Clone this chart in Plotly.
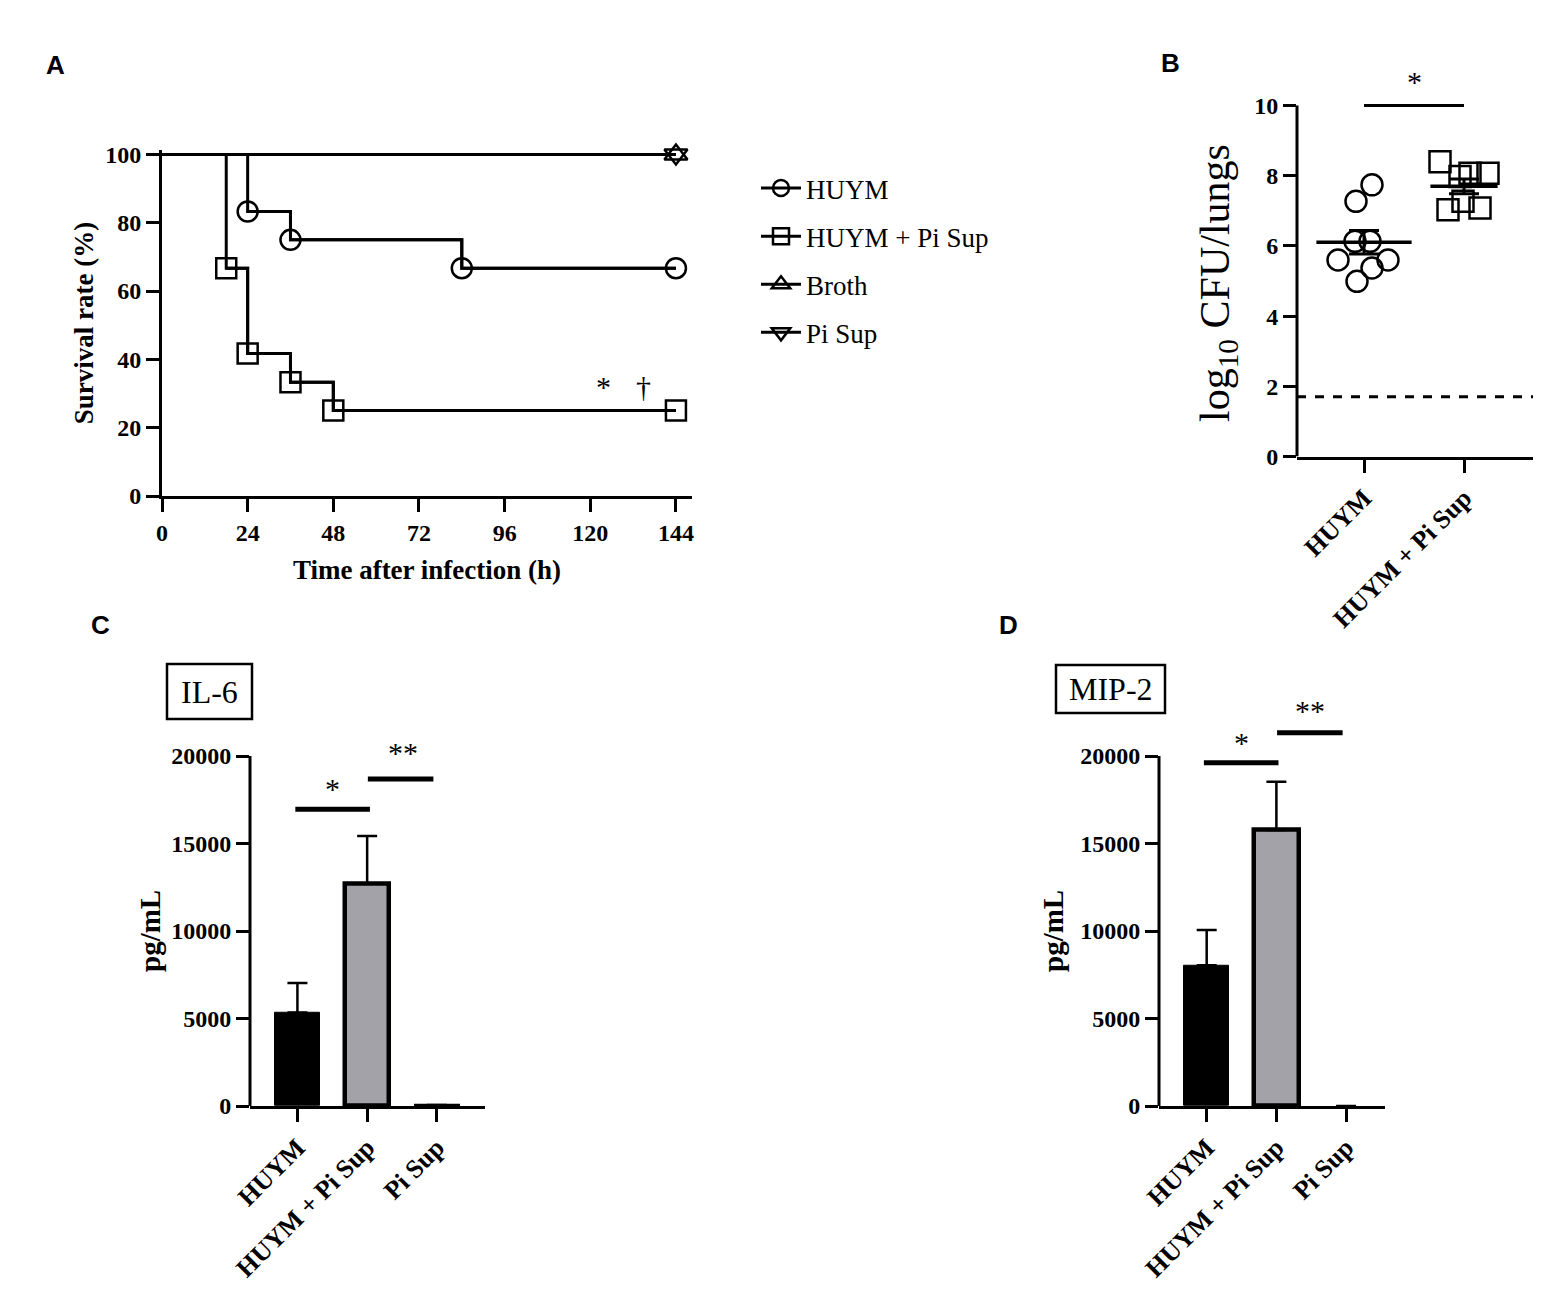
import numpy as np
import plotly.graph_objects as go

W, H = 1562, 1304
OFF = 8  # page offset of the plot inside the browser window
SERIF = "Liberation Serif"
SANS = "Liberation Sans"

# ---------------- Panel A: survival ----------------
time_huym = [0, 24, 36, 84, 144]
surv_huym = [100, 83.3, 75.0, 66.7, 66.7]
time_mix = [0, 18, 24, 36, 48, 144]
surv_mix = [100, 66.7, 41.7, 33.3, 25.0, 25.0]
time_broth = [0, 144]
surv_broth = [100, 100]
time_pisup = [0, 144]
surv_pisup = [100, 100]
survival_ticks = [0, 20, 40, 60, 80, 100]
time_ticks = [0, 24, 48, 72, 96, 120, 144]

# ---------------- Panel B: lung CFU ----------------
groups_b = ["HUYM", "HUYM + Pi Sup"]
cfu_huym = [7.74, 7.27, 6.13, 6.13, 5.60, 5.60, 5.37, 4.99]
jitter_huym = [0.08, -0.08, -0.09, 0.06, -0.26, 0.24, 0.08, -0.07]
cfu_mix = [8.40, 7.98, 8.07, 8.07, 7.27, 7.03, 7.08]
jitter_mix = [-0.24, -0.04, 0.06, 0.24, -0.01, -0.16, 0.16]
detection_limit = 1.7
cfu_ticks = [0, 2, 4, 6, 8, 10]

# ---------------- Panels C / D: cytokines ----------------
groups_cd = ["HUYM", "HUYM + Pi Sup", "Pi Sup"]
il6_mean = [5350, 12720, 60]
il6_err = [1680, 2710, 0]
mip2_mean = [8040, 15770, 0]
mip2_err = [2020, 2760, 0]
pg_ticks = [0, 5000, 10000, 15000, 20000]
pg_ticklabels = ["0", "5000", "10000", "15000", "20000"]

# significance: (x0, x1, y_bar, label, x_text, y_text)
sig_b = [(0.0, 1.0, 10.0, "*", 0.5, 10.73)]
sig_c = [(-0.03, 1.04, 16960, "*", 0.51, 18230), (1.01, 1.95, 18680, "**", 1.51, 20340)]
sig_d = [(-0.04, 1.03, 19620, "*", 0.50, 20910), (1.01, 1.95, 21330, "**", 1.48, 22740)]
sig_a = [(123.6, 32.6, "*"), (134.8, 32.6, "†")]


def px_x(x):
    return (x - OFF) / W


def px_y(y):
    return 1 - (y - OFF) / H


def tfont(size=24, bold=True):
    return dict(family=SERIF, size=size, color="black", weight="bold" if bold else "normal")


fig = go.Figure()

# ---- Panel A traces ----
series_a = [
    ("HUYM", time_huym, surv_huym, "circle-open"),
    ("HUYM + Pi Sup", time_mix, surv_mix, "square-open"),
    ("Broth", time_broth, surv_broth, "triangle-up-open"),
    ("Pi Sup", time_pisup, surv_pisup, "triangle-down-open"),
]
for name, tx, sy, sym in series_a:
    fig.add_trace(go.Scatter(
        x=tx, y=sy, mode="lines", line=dict(color="black", width=3, shape="hv"),
        showlegend=False, legendgroup=name, hoverinfo="skip", xaxis="x", yaxis="y"))
    fig.add_trace(go.Scatter(
        x=tx[1:], y=sy[1:], mode="lines+markers", name=name, legendgroup=name,
        line=dict(color="black", width=3, shape="hv"),
        marker=dict(symbol=sym, size=20, color="black", line=dict(width=2.5, color="black")),
        cliponaxis=False, xaxis="x", yaxis="y"))

# ---- Panel B traces ----
for gi, (vals, jit, sym) in enumerate([(cfu_huym, jitter_huym, "circle-open"),
                                        (cfu_mix, jitter_mix, "square-open")]):
    fig.add_trace(go.Scatter(
        x=[gi + j for j in jit], y=vals, mode="markers",
        marker=dict(symbol=sym, size=21, color="black", line=dict(width=2.5, color="black")),
        showlegend=False, cliponaxis=False, xaxis="x2", yaxis="y2"))

means_b = [float(np.mean(cfu_huym)), float(np.mean(cfu_mix))]
sems_b = [float(np.std(cfu_huym, ddof=1) / np.sqrt(len(cfu_huym))),
          float(np.std(cfu_mix, ddof=1) / np.sqrt(len(cfu_mix)))]
fig.add_trace(go.Scatter(
    x=[0, 1], y=means_b, mode="markers",
    marker=dict(symbol="line-ew", size=[68, 48], color="black", opacity=1,
                line=dict(width=3.5, color="black")),
    error_y=dict(type="data", array=sems_b, visible=True, color="black", thickness=3, width=15),
    showlegend=False, cliponaxis=False, xaxis="x2", yaxis="y2"))

# ---- Panels C / D bars ----
bar_colors = ["black", "#a2a2a8", "black"]
for means, errs, lws, xa, ya in [(il6_mean, il6_err, [1, 4.5, 2], "x3", "y3"),
                                 (mip2_mean, mip2_err, [1, 4.5, 0], "x4", "y4")]:
    fig.add_trace(go.Bar(
        x=[0, 1, 2], y=means, width=0.64,
        marker=dict(color=bar_colors, line=dict(color="black", width=lws)),
        error_y=dict(type="data", symmetric=False, array=errs, arrayminus=[0, 0, 0],
                     color="black", thickness=2.5, width=10),
        showlegend=False, xaxis=xa, yaxis=ya))

common = dict(showline=True, linecolor="black", linewidth=3, ticks="outside", ticklen=13,
              tickwidth=3, tickcolor="black", showgrid=False, zeroline=False, tickfont=tfont(24),
              automargin=False)

layout = dict(
    width=W, height=H, margin=dict(l=0, r=0, t=0, b=0, pad=0, autoexpand=False),
    paper_bgcolor="white", plot_bgcolor="white", bargap=0,
    showlegend=True,
    legend=dict(x=px_x(756), y=px_y(164), xanchor="left", yanchor="top", itemwidth=40,
                font=dict(family=SERIF, size=27, color="black"), tracegroupgap=10,
                bgcolor="rgba(0,0,0,0)"),
    xaxis=dict(common, domain=[px_x(162), px_x(692)], range=[0, 148.5], tickvals=time_ticks,
               anchor="y", title=dict(text="Time after infection (h)", font=tfont(27), standoff=16)),
    yaxis=dict(common, domain=[px_y(496), px_y(150)], range=[0, 101.3], tickvals=survival_ticks,
               anchor="x", title=dict(text="Survival rate (%)", font=tfont(27), standoff=4)),
    xaxis2=dict(common, domain=[px_x(1297), px_x(1533)], range=[-0.67, 1.69], tickvals=[0, 1],
                ticktext=groups_b, tickangle=-45, tickfont=tfont(26), anchor="y2"),
    yaxis2=dict(common, showline=False, domain=[px_y(456.5), px_y(52.9)], range=[0, 11.5],
                tickvals=cfu_ticks, anchor="x2"),
    xaxis3=dict(common, domain=[px_x(250), px_x(485)], range=[-0.68, 2.69], tickvals=[0, 1, 2],
                ticktext=groups_cd, tickangle=-45, tickfont=tfont(26), anchor="y3"),
    yaxis3=dict(common, showline=False, domain=[px_y(1106), px_y(694.75)], range=[0, 23500],
                tickvals=pg_ticks, ticktext=pg_ticklabels, anchor="x3"),
    xaxis4=dict(common, domain=[px_x(1159), px_x(1385)], range=[-0.684, 2.558], tickvals=[0, 1, 2],
                ticktext=groups_cd, tickangle=-45, tickfont=tfont(26), anchor="y4"),
    yaxis4=dict(common, showline=False, domain=[px_y(1106), px_y(694.75)], range=[0, 23500],
                tickvals=pg_ticks, ticktext=pg_ticklabels, anchor="x4"),
)
fig.update_layout(**layout)

shapes = []
annotations = []

# y spines that stop at the top tick
for n, top in [(2, cfu_ticks[-1]), (3, pg_ticks[-1]), (4, pg_ticks[-1])]:
    shapes.append(dict(type="line", xref=f"x{n} domain", yref=f"y{n}", x0=0, x1=0, y0=0, y1=top,
                       line=dict(color="black", width=3)))

# y-axis titles centred on the drawn spines
for txt, x, y, fnt in [("log<sub>10</sub> CFU/lungs", 1218, 283, tfont(42, bold=False)),
                       ("pg/mL", 150, 931, tfont(29)),
                       ("pg/mL", 1053, 931, tfont(29))]:
    annotations.append(dict(text=txt, xref="paper", yref="paper", x=px_x(x), y=px_y(y),
                            textangle=-90, showarrow=False, xanchor="center", yanchor="middle",
                            font=fnt))

# detection limit in B
shapes.append(dict(type="line", xref="x2 domain", yref="y2", x0=0, x1=1,
                   y0=detection_limit, y1=detection_limit,
                   line=dict(color="black", width=3, dash="dash")))

# significance bars
for sigs, n, lw, fs in [(sig_b, 2, 3, 30), (sig_c, 3, 5, 30), (sig_d, 4, 5, 30)]:
    for x0, x1, yb, lab, xt, yt in sigs:
        shapes.append(dict(type="line", xref=f"x{n}", yref=f"y{n}", x0=x0, x1=x1, y0=yb, y1=yb,
                           line=dict(color="black", width=lw)))
        annotations.append(dict(text=lab, xref=f"x{n}", yref=f"y{n}", x=xt, y=yt, showarrow=False,
                                yshift=-2, font=dict(family=SERIF, size=fs, color="black")))

for xt, yt, lab in sig_a:
    annotations.append(dict(text=lab, xref="x", yref="y", x=xt, y=yt, showarrow=False,
                            yshift=-2, font=dict(family=SERIF, size=30, color="black")))

# boxed cytokine labels
for lab, x0, x1, y0, y1 in [("IL-6", 167, 252, 664, 719), ("MIP-2", 1056, 1165, 665, 713)]:
    shapes.append(dict(type="rect", xref="paper", yref="paper", x0=px_x(x0), x1=px_x(x1),
                       y0=px_y(y1), y1=px_y(y0), line=dict(color="black", width=2.5)))
    annotations.append(dict(text=lab, xref="paper", yref="paper", x=px_x((x0 + x1) / 2),
                            y=px_y((y0 + y1) / 2), showarrow=False, xanchor="center", yanchor="middle",
                            font=dict(family=SERIF, size=32, color="black")))

# panel letters
for lab, x, y in [("A", 55, 65), ("B", 1170, 63), ("C", 100, 625), ("D", 1008, 625)]:
    annotations.append(dict(text=lab, xref="paper", yref="paper", x=px_x(x), y=px_y(y),
                            showarrow=False, xanchor="center", yanchor="middle",
                            font=dict(family=SANS, size=26, color="black", weight="bold")))

fig.update_layout(shapes=shapes, annotations=annotations)
fig.write_html("out.html")
